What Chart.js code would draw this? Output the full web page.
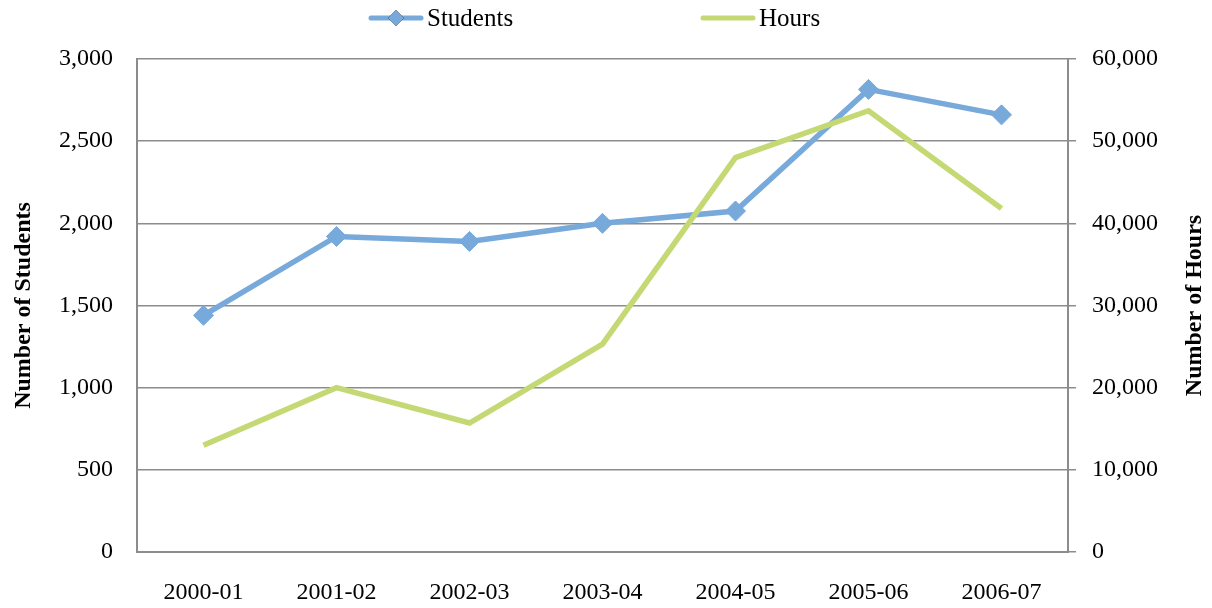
<!DOCTYPE html>
<html>
<head>
<meta charset="utf-8">
<script src="https://cdn.jsdelivr.net/npm/chart.js@4/dist/chart.umd.min.js"></script>
<style>
html, body { margin: 0; padding: 0; background: #fff; }
#wrap { width: 1212px; height: 608px; }
</style>
</head>
<body>
<div id="wrap"><canvas id="cv" width="1212" height="608"></canvas></div>
<script>
// values
const years = ['2000-01', '2001-02', '2002-03', '2003-04', '2004-05', '2005-06', '2006-07'];
const students = [1440, 1920, 1890, 2000, 2075, 2815, 2660];
const hours = [13000, 20000, 15700, 25300, 48000, 53700, 41800];
const studentTicks = [0, 500, 1000, 1500, 2000, 2500, 3000];
const hourTicks = [0, 10000, 20000, 30000, 40000, 50000, 60000];

const FONT = "'Liberation Serif', 'DejaVu Serif', serif";
const BLUE = '#77a9da';
const GREEN = '#c4d974';
const GRID = '#8c8c8c';

// legend across the top, line + marker sample then the label
const topLegend = {
  id: 'topLegend',
  afterDraw(chart) {
    const ctx = chart.ctx;
    const items = [
      { x: 368, ds: chart.data.datasets[0] },
      { x: 700, ds: chart.data.datasets[1] }
    ];
    const y = 18;
    ctx.save();
    items.forEach(it => {
      ctx.strokeStyle = it.ds.borderColor;
      ctx.lineWidth = 5;
      ctx.lineCap = 'round';
      ctx.beginPath();
      ctx.moveTo(it.x + 3, y);
      ctx.lineTo(it.x + 53, y);
      ctx.stroke();
      if (it.ds.pointRadius > 0) {
        Chart.helpers.drawPoint(ctx, { pointStyle: 'rectRot', radius: 8, rotation: 0 }, it.x + 28, y);
        ctx.fillStyle = it.ds.borderColor;
        ctx.fill();
      }
      ctx.fillStyle = '#000';
      ctx.font = '25px ' + FONT;
      ctx.textBaseline = 'middle';
      ctx.textAlign = 'left';
      ctx.fillText(it.ds.label, it.x + 59, y + 1);
    });
    ctx.restore();
  }
};

// right axis title reads bottom-to-top like the left one
const rightTitle = {
  id: 'rightTitle',
  afterDraw(chart) {
    const ctx = chart.ctx;
    const a = chart.chartArea;
    ctx.save();
    ctx.translate(1195, (a.top + a.bottom) / 2);
    ctx.rotate(-Math.PI / 2);
    ctx.font = 'bold 24px ' + FONT;
    ctx.fillStyle = '#000';
    ctx.textAlign = 'center';
    ctx.textBaseline = 'middle';
    ctx.fillText('Number of Hours', 0, 0);
    ctx.restore();
  }
};

const fmt = v => Number(v).toLocaleString('en-US');

new Chart(document.getElementById('cv').getContext('2d'), {
  type: 'line',
  data: {
    labels: years,
    datasets: [
      {
        label: 'Students',
        data: students,
        yAxisID: 'y',
        borderColor: BLUE,
        backgroundColor: BLUE,
        borderWidth: 5.5,
        pointStyle: 'rectRot',
        pointRadius: 10,
        pointBorderWidth: 1,
        pointBackgroundColor: BLUE,
        pointBorderColor: BLUE,
        tension: 0,
        order: 2
      },
      {
        label: 'Hours',
        data: hours,
        yAxisID: 'y1',
        borderColor: GREEN,
        backgroundColor: GREEN,
        borderWidth: 5.5,
        pointRadius: 0,
        tension: 0,
        order: 1
      }
    ]
  },
  options: {
    responsive: false,
    animation: false,
    layout: { padding: { top: 59, left: 0, right: 0, bottom: 0 } },
    plugins: {
      legend: { display: false },
      tooltip: { enabled: false }
    },
    scales: {
      x: {
        offset: true,
        grid: { display: false, drawTicks: false },
        border: { display: true, color: GRID, width: 2 },
        ticks: { color: '#000', font: { family: FONT, size: 24 }, padding: 26, maxRotation: 0 },
        afterFit(s) { s.height = 56; }
      },
      y: {
        position: 'left',
        min: 0,
        max: 3000,
        afterBuildTicks(s) { s.ticks = studentTicks.map(v => ({ value: v })); },
        grid: { color: GRID, lineWidth: 1.5, drawTicks: false },
        border: { display: true, color: GRID, width: 2 },
        ticks: { color: '#000', font: { family: FONT, size: 24 }, padding: 24, callback: v => fmt(v) },
        title: {
          display: true,
          text: 'Number of Students',
          color: '#000',
          font: { family: FONT, size: 24, weight: 'bold' },
          padding: { top: 9, bottom: 0 }
        },
        afterFit(s) { s.width = 137; }
      },
      y1: {
        position: 'right',
        min: 0,
        max: 60000,
        afterBuildTicks(s) { s.ticks = hourTicks.map(v => ({ value: v })); },
        grid: { drawOnChartArea: false, color: GRID, lineWidth: 1.5, drawTicks: true, tickLength: 8 },
        border: { display: true, color: GRID, width: 2 },
        ticks: { color: '#000', font: { family: FONT, size: 24 }, padding: 16, callback: v => fmt(v) },
        afterFit(s) { s.width = 144; }
      }
    }
  },
  plugins: [topLegend, rightTitle]
});
</script>
</body>
</html>
